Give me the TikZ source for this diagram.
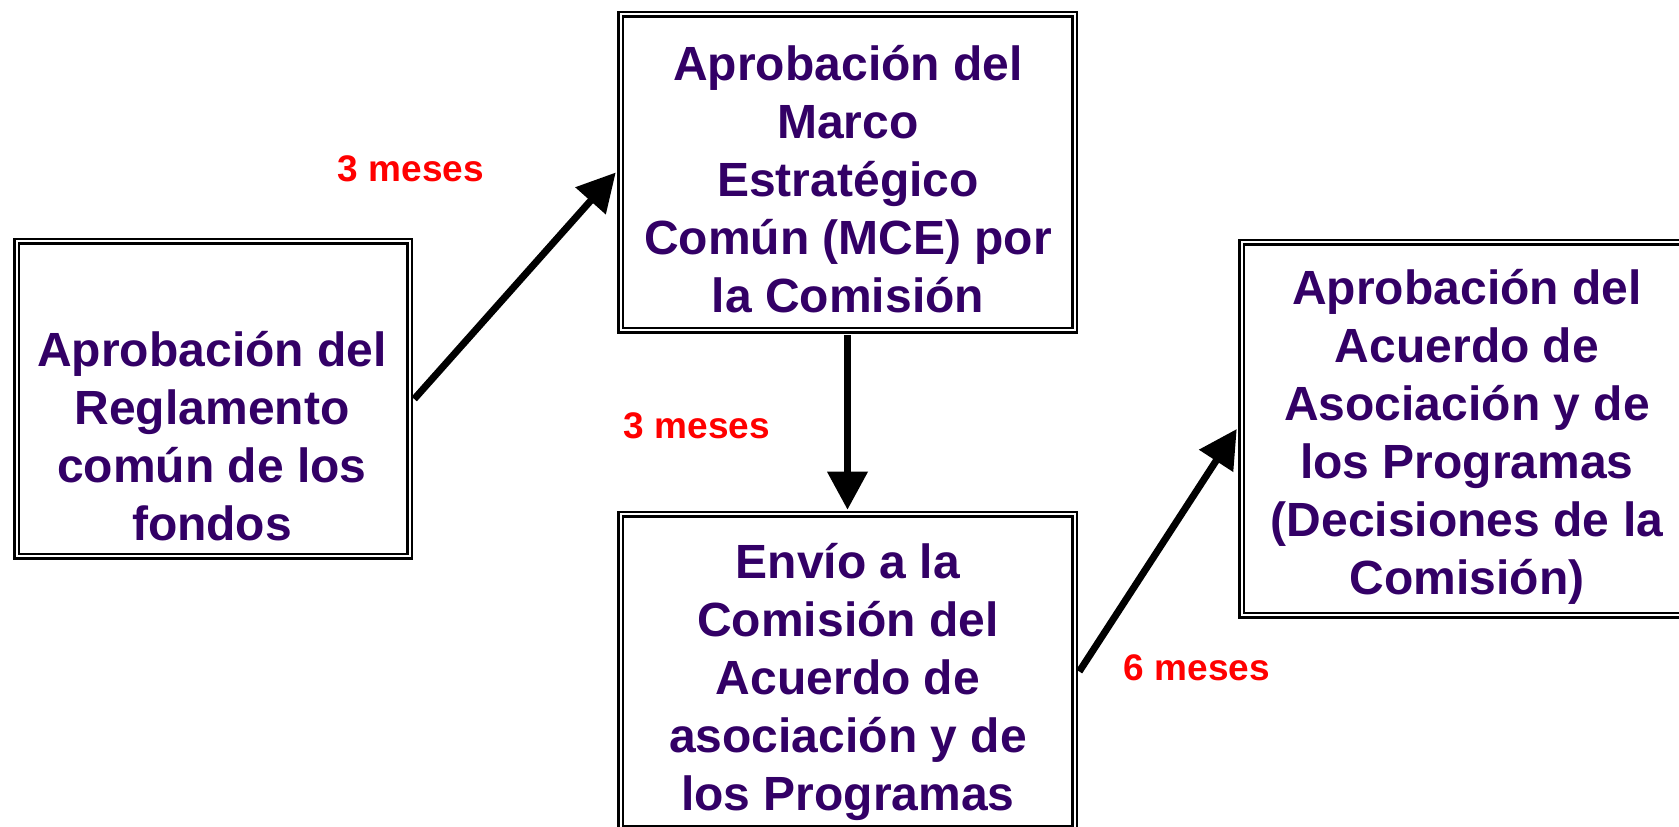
\documentclass[tikz,border=0pt]{standalone}
\usepackage{fontspec}
\setmainfont{Liberation Sans}
\usetikzlibrary{arrows.meta}
\definecolor{txtpurple}{HTML}{330066}
\definecolor{lblred}{HTML}{FF0000}
\tikzset{
  dbox/.style={draw=black, line width=2.5pt, double=white, double distance=2pt, fill=none, inner sep=0pt},
  btext/.style={text=txtpurple, align=center, font=\bfseries\fontsize{48}{58}\selectfont, inner sep=0pt},
  lbl/.style={text=lblred, font=\bfseries\fontsize{37}{44}\selectfont, inner sep=0pt},
  arr/.style={line width=7pt, -{Triangle[length=38pt,width=39pt]}}
}
\begin{document}
\begin{tikzpicture}[x=1pt,y=1pt]
\useasboundingbox (0,0) rectangle (1679,827);
\fill[white] (0,0) rectangle (1679,827);
% boxes
\node[dbox, minimum width=393pt, minimum height=315pt] (lb) at (213,428) {};
\node[dbox, minimum width=454pt, minimum height=316pt] (tb) at (847.5,654.5) {};
\node[dbox, minimum width=454pt, minimum height=314pt] (bb) at (847.5,155.5) {};
\node[dbox, minimum width=445pt, minimum height=373pt] (rb) at (1464,398) {};
% texts
\node[btext] (lt) at (212,391) {Aprobación del\\Reglamento\\común de los\\fondos};
\node[btext] (tt) at (848,648) {Aprobación del\\Marco\\Estratégico\\Común (MCE) por\\la Comisión};
\node[btext] (bt) at (848,145) {Envío a la\\Comisión del\\Acuerdo de\\asociación y de\\los Programas};
\node[btext] (rt) at (1467,390) {Aprobación del\\Acuerdo de\\Asociación y de\\los Programas\\(Decisiones de la\\Comisión)};
% labels
\node[lbl] (l1) at (411,658) {3 meses};
\node[lbl] (l2) at (697,401) {3 meses};
\node[lbl] (l3) at (1197,159) {6 meses};
% arrows
\draw[arr] ([xshift=3.5pt]lb.east) -- ([xshift=-3.5pt]tb.west);
\draw[arr] ([yshift=-3.5pt]tb.south) -- ([yshift=3.5pt]bb.north);
\draw[arr] ([xshift=3.5pt]bb.east) -- ([xshift=-3.5pt]rb.west);
\end{tikzpicture}
\end{document}
